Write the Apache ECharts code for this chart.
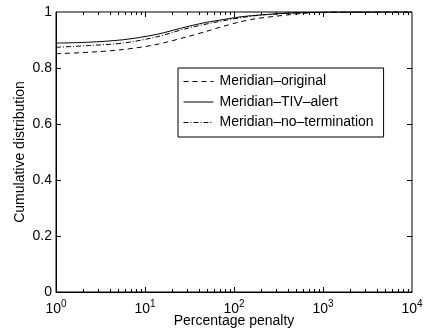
<!DOCTYPE html>
<html>
<head>
<meta charset="utf-8">
<script src="https://cdn.jsdelivr.net/npm/echarts@6/dist/echarts.min.js"></script>
<style>
  html, body { margin: 0; padding: 0; background: #fff; }
  #chart { width: 427px; height: 331px; }
</style>
</head>
<body>
<div id="chart"></div>
<script>
// Cumulative distribution of percentage penalty for three Meridian variants
const seriesNames = ['Meridian\u2013original', 'Meridian\u2013TIV\u2013alert', 'Meridian\u2013no\u2013termination'];

const originalX = [1, 2.3, 5.7, 13, 31, 49, 76, 114, 175, 410, 630, 1000, 2000, 10000];
const originalY = [0.851, 0.856, 0.866, 0.883, 0.913, 0.931, 0.949, 0.964, 0.976, 0.990, 0.996, 0.999, 1, 1];

const tivAlertX = [1, 2.3, 5.7, 13, 31, 49, 76, 114, 175, 410, 1000, 2000, 10000];
const tivAlertY = [0.889, 0.892, 0.901, 0.919, 0.949, 0.963, 0.973, 0.982, 0.988, 0.996, 0.999, 1, 1];

const noTermX = [1, 2.3, 5.7, 13, 31, 76, 175, 410, 1000, 2000, 10000];
const noTermY = [0.874, 0.880, 0.889, 0.910, 0.943, 0.969, 0.987, 0.996, 0.999, 1, 1];

const xDecades = [0, 1, 2, 3, 4];           // tick labels 10^k
const yTicks = [0, 0.2, 0.4, 0.6, 0.8, 1];
const minorMultipliers = [2, 3, 4, 5, 6, 7, 8, 9];

const FONT = 'Liberation Sans, Arial, Helvetica, sans-serif';

function zip(xs, ys) { return xs.map((x, i) => [x, ys[i]]); }

// tick marks drawn inward on all four sides of the frame
const frameTicks = [];
for (let k = 0; k < xDecades.length - 1; k++) {
  if (k > 0) frameTicks.push([Math.pow(10, xDecades[k]), 0, 'xmajor']);
  for (const m of minorMultipliers) frameTicks.push([m * Math.pow(10, xDecades[k]), 0, 'xminor']);
}
for (let i = 1; i < yTicks.length - 1; i++) frameTicks.push([1, yTicks[i], 'y']);

const chart = echarts.init(document.getElementById('chart'), null, { renderer: 'canvas' });

const axisLine = { show: true, onZero: false, lineStyle: { color: '#000', width: 1 } };

function lineSeries(name, xs, ys, dash) {
  return {
    name: name,
    type: 'line',
    data: zip(xs, ys),
    symbol: 'none',
    smooth: 0.3,
    lineStyle: { color: '#000', width: 1, type: dash },
    itemStyle: { color: 'rgba(0,0,0,0)', borderWidth: 0 }
  };
}

chart.setOption({
  animation: false,
  backgroundColor: '#fff',
  grid: {
    left: 56, top: 12, right: 15, bottom: 39, containLabel: false,
    outerBoundsMode: 'none',
    show: true, borderColor: '#000', borderWidth: 1, backgroundColor: 'rgba(0,0,0,0)'
  },
  legend: {
    data: seriesNames,
    orient: 'vertical',
    left: 178,
    top: 68,
    itemWidth: 30,
    itemHeight: 14,
    itemGap: 6.5,
    padding: [6.5, 10, 7.5, 5],
    borderColor: '#000',
    borderWidth: 1,
    backgroundColor: '#fff',
    itemStyle: { color: 'rgba(0,0,0,0)', borderWidth: 0, opacity: 0 },
    lineStyle: { color: '#000', width: 1 },
    textStyle: { fontFamily: FONT, fontSize: 14, color: '#000', padding: [0, 0, 0, 1] },
    selectedMode: false
  },
  xAxis: {
    type: 'log',
    logBase: 10,
    min: 1,
    max: 10000,
    position: 'bottom',
    axisLine: axisLine,
    axisTick: { show: false },
    splitLine: { show: false },
    axisLabel: {
      margin: 4,
      fontFamily: FONT,
      color: '#000',
      formatter: function (v) {
        const e = Math.round(Math.log10(v));
        return '{b|10}{e|' + e + '}';
      },
      rich: {
        b: { fontFamily: FONT, fontSize: 14, color: '#000', padding: [6, 0, 0, 0] },
        e: { fontFamily: FONT, fontSize: 10, color: '#000', padding: [0, 0, 4, 0] }
      }
    },
    name: 'Percentage penalty',
    nameLocation: 'middle',
    nameGap: 22,
    nameMoveOverlap: false,
    nameTextStyle: { fontFamily: FONT, fontSize: 14, color: '#000' }
  },
  yAxis: {
    type: 'value',
    min: 0,
    max: 1,
    interval: 0.2,
    position: 'left',
    axisLine: axisLine,
    axisTick: { show: false },
    splitLine: { show: false },
    axisLabel: {
      margin: 4,
      fontFamily: FONT,
      fontSize: 14,
      color: '#000',
      formatter: function (v) { return String(Math.round(v * 10) / 10); }
    },
    name: 'Cumulative distribution',
    nameLocation: 'middle',
    nameGap: 29,
    nameMoveOverlap: false,
    nameTextStyle: { fontFamily: FONT, fontSize: 14, color: '#000' }
  },
  series: [
    lineSeries(seriesNames[0], originalX, originalY, [5, 4]),
    lineSeries(seriesNames[1], tivAlertX, tivAlertY, 'solid'),
    lineSeries(seriesNames[2], noTermX, noTermY, [5, 2, 1, 2]),
    {
      // inward ticks on bottom/top (log decades) and left/right (0.2 steps)
      type: 'custom',
      silent: true,
      z: 10,
      clip: false,
      data: frameTicks,
      renderItem: function (params, api) {
        const cs = params.coordSys;
        const kind = frameTicks[params.dataIndex][2];
        const style = { stroke: '#000', lineWidth: 1, fill: null };
        const left = cs.x, right = cs.x + cs.width;
        const top = cs.y, bottom = cs.y + cs.height;
        if (kind === 'y') {
          const y = Math.round(api.coord([1, api.value(1)])[1]) + 0.5;
          return {
            type: 'group',
            children: [
              { type: 'line', shape: { x1: left, y1: y, x2: left + 5, y2: y }, style: style },
              { type: 'line', shape: { x1: right, y1: y, x2: right - 5, y2: y }, style: style }
            ]
          };
        }
        const len = kind === 'xmajor' ? 5 : 3;
        const x = Math.round(api.coord([api.value(0), 0.5])[0]) + 0.5;
        return {
          type: 'group',
          children: [
            { type: 'line', shape: { x1: x, y1: bottom, x2: x, y2: bottom - len }, style: style },
            { type: 'line', shape: { x1: x, y1: top, x2: x, y2: top + len }, style: style }
          ]
        };
      }
    }
  ]
});
</script>
</body>
</html>
